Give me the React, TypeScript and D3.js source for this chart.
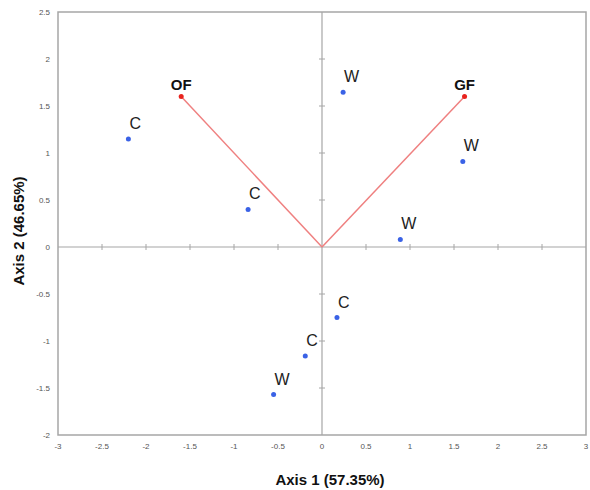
import React, { useEffect, useRef } from "react";
import * as d3 from "d3";

// sample scores (blue points)
const sampleLabels = ["C", "C", "W", "W", "W", "C", "C", "W"];
const sampleX = [-2.2, -0.84, 0.24, 1.6, 0.89, 0.17, -0.19, -0.55];
const sampleY = [1.15, 0.4, 1.645, 0.91, 0.08, -0.75, -1.16, -1.57];

// variable loadings (red vectors)
const varLabels = ["OF", "GF"];
const varX = [-1.6, 1.62];
const varY = [1.6, 1.6];

const xTicks = [-3, -2.5, -2, -1.5, -1, -0.5, 0, 0.5, 1, 1.5, 2, 2.5, 3];
const yTicks = [-2, -1.5, -1, -0.5, 0, 0.5, 1, 1.5, 2, 2.5];

const App = () => {
  const svgRef = useRef<SVGSVGElement>(null);

  useEffect(() => {
    const svg = d3.select(svgRef.current);
    svg.selectAll("*").remove();
    const margin = { top: 12, right: 4, bottom: 55, left: 58 };
    const width = 590;
    const height = 490;

    const x = d3.scaleLinear().domain([-3, 3]).range([margin.left, width - margin.right]);
    const y = d3.scaleLinear().domain([-2, 2.5]).range([height - margin.bottom, margin.top]);

    // frame
    svg.append("rect")
      .attr("x", x(-3))
      .attr("y", y(2.5))
      .attr("width", x(3) - x(-3))
      .attr("height", y(-2) - y(2.5))
      .attr("fill", "white")
      .attr("stroke", "#a6a6a6")
      .attr("stroke-width", 1.5);

    // tick labels on the frame edges
    svg.append("g")
      .selectAll("text")
      .data(xTicks)
      .enter()
      .append("text")
      .attr("x", (d) => x(d))
      .attr("y", y(-2) + 14)
      .attr("text-anchor", "middle")
      .attr("font-family", "Liberation Sans, Arial, sans-serif")
      .attr("font-size", 8)
      .attr("fill", "#555")
      .text((d) => String(d));

    svg.append("g")
      .selectAll("text")
      .data(yTicks)
      .enter()
      .append("text")
      .attr("x", x(-3) - 8)
      .attr("y", (d) => y(d) + 3)
      .attr("text-anchor", "end")
      .attr("font-family", "Liberation Sans, Arial, sans-serif")
      .attr("font-size", 8)
      .attr("fill", "#555")
      .text((d) => String(d));

    // axes through origin
    const axisColor = "#a6a6a6";
    svg.append("line")
      .attr("x1", x(-3)).attr("x2", x(3))
      .attr("y1", y(0)).attr("y2", y(0))
      .attr("stroke", axisColor).attr("stroke-width", 1.2);
    svg.append("line")
      .attr("x1", x(0)).attr("x2", x(0))
      .attr("y1", y(2.5)).attr("y2", y(-2))
      .attr("stroke", axisColor).attr("stroke-width", 1.2);

    svg.append("g")
      .selectAll("line")
      .data(xTicks.filter((d) => d !== 0 && Math.abs(d) !== 3))
      .enter()
      .append("line")
      .attr("x1", (d) => x(d)).attr("x2", (d) => x(d))
      .attr("y1", y(0) - 3).attr("y2", y(0) + 3)
      .attr("stroke", axisColor);

    svg.append("g")
      .selectAll("line")
      .data(yTicks.filter((d) => d !== 0 && d !== 2.5 && d !== -2))
      .enter()
      .append("line")
      .attr("x1", x(0) - 3).attr("x2", x(0) + 3)
      .attr("y1", (d) => y(d)).attr("y2", (d) => y(d))
      .attr("stroke", axisColor);

    // vectors
    svg.append("g")
      .selectAll("line")
      .data(varLabels)
      .enter()
      .append("line")
      .attr("x1", x(0)).attr("y1", y(0))
      .attr("x2", (d, i) => x(varX[i]))
      .attr("y2", (d, i) => y(varY[i]))
      .attr("stroke", "#ef8080")
      .attr("stroke-width", 1.5);

    svg.append("g")
      .selectAll("circle")
      .data(varLabels)
      .enter()
      .append("circle")
      .attr("cx", (d, i) => x(varX[i]))
      .attr("cy", (d, i) => y(varY[i]))
      .attr("r", 2.5)
      .attr("fill", "#e8231e");

    svg.append("g")
      .selectAll("text")
      .data(varLabels)
      .enter()
      .append("text")
      .attr("x", (d, i) => x(varX[i]))
      .attr("y", (d, i) => y(varY[i]) - 7)
      .attr("text-anchor", "middle")
      .attr("font-family", "Liberation Sans, Arial, sans-serif")
      .attr("font-size", 15)
      .attr("font-weight", "bold")
      .attr("fill", "#111")
      .text((d) => d);

    // samples
    svg.append("g")
      .selectAll("circle")
      .data(sampleLabels)
      .enter()
      .append("circle")
      .attr("cx", (d, i) => x(sampleX[i]))
      .attr("cy", (d, i) => y(sampleY[i]))
      .attr("r", 2.5)
      .attr("fill", "#3a62e6");

    svg.append("g")
      .selectAll("text")
      .data(sampleLabels)
      .enter()
      .append("text")
      .attr("x", (d, i) => x(sampleX[i]) + 1)
      .attr("y", (d, i) => y(sampleY[i]) - 10)
      .attr("font-family", "Liberation Sans, Arial, sans-serif")
      .attr("font-size", 16)
      .attr("fill", "#222")
      .text((d) => d);

    // axis titles
    svg.append("text")
      .attr("x", 330)
      .attr("y", 485)
      .attr("text-anchor", "middle")
      .attr("font-family", "Liberation Sans, Arial, sans-serif")
      .attr("font-size", 15)
      .attr("font-weight", "bold")
      .attr("fill", "#111")
      .text("Axis 1 (57.35%)");

    svg.append("text")
      .attr("transform", "translate(24,231) rotate(-90)")
      .attr("text-anchor", "middle")
      .attr("font-family", "Liberation Sans, Arial, sans-serif")
      .attr("font-size", 15)
      .attr("font-weight", "bold")
      .attr("fill", "#111")
      .text("Axis 2 (46.65%)");
  }, []);

  return (
    <svg
      ref={svgRef}
      width={590}
      height={490}
      style={{ position: "absolute", left: 0, top: 0, background: "white" }}
    ></svg>
  );
};

export default App;
